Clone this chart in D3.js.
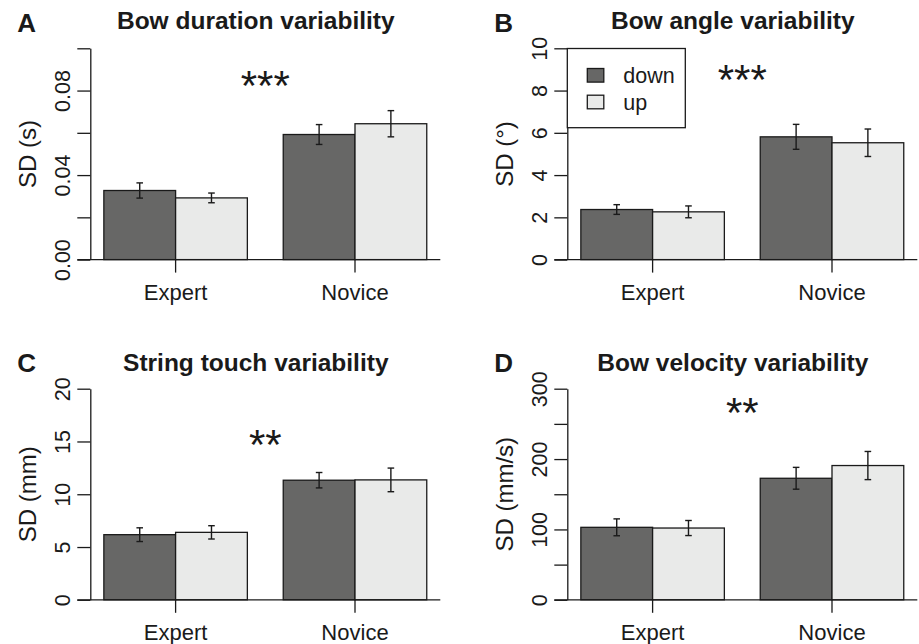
<!DOCTYPE html>
<html>
<head>
<meta charset="utf-8">
<script src="https://cdn.jsdelivr.net/npm/d3@7"></script>
<style>
  html, body { margin: 0; padding: 0; background: #fff; }
  svg { display: block; font-family: "Liberation Sans", Arial, Helvetica, sans-serif; }
</style>
</head>
<body>
<svg id="chart" width="919" height="644"></svg>
<script>
// ---------- data ----------
const groups = ["Expert", "Novice"];
const series = ["down", "up"];
const seriesColors = ["#676766", "#e9eae9"];

const durationDown = [0.0327, 0.0592];
const durationUp   = [0.0292, 0.0643];
const durationErrDown = [0.0036, 0.0047];
const durationErrUp   = [0.0023, 0.0062];
const durationTicks  = [0, 0.02, 0.04, 0.06, 0.08, 0.10];
const durationLabels = ["0.00", "", "0.04", "", "0.08", ""];

const angleDown = [2.37, 5.81];
const angleUp   = [2.26, 5.53];
const angleErrDown = [0.23, 0.59];
const angleErrUp   = [0.28, 0.65];
const angleTicks  = [0, 2, 4, 6, 8, 10];
const angleLabels = ["0", "2", "4", "6", "8", "10"];

const touchDown = [6.17, 11.33];
const touchUp   = [6.39, 11.36];
const touchErrDown = [0.65, 0.73];
const touchErrUp   = [0.63, 1.12];
const touchTicks  = [0, 5, 10, 15, 20];
const touchLabels = ["0", "5", "10", "15", "20"];

const velocityDown = [103, 172.7];
const velocityUp   = [102, 190.8];
const velocityErrDown = [12, 15.5];
const velocityErrUp   = [10.7, 20];
const velocityTicks  = [0, 50, 100, 150, 200, 250, 300];
const velocityLabels = ["0", "", "100", "", "200", "", "300"];

const panelLetters = ["A", "B", "C", "D"];
const panelTitles = ["Bow duration variability", "Bow angle variability",
                     "String touch variability", "Bow velocity variability"];
const yTitles = ["SD (s)", "SD (\u00b0)", "SD (mm)", "SD (mm/s)"];
const stars = ["***", "***", "**", "**"];

// ---------- layout ----------
const panels = [
  { vals: [durationDown, durationUp], errs: [durationErrDown, durationErrUp], ticks: durationTicks, labels: durationLabels,
    ax: 90.3, top: 48.3, base: 259.6, legend: false },
  { vals: [angleDown, angleUp], errs: [angleErrDown, angleErrUp], ticks: angleTicks, labels: angleLabels,
    ax: 567.3, top: 48.3, base: 259.6, legend: true },
  { vals: [touchDown, touchUp], errs: [touchErrDown, touchErrUp], ticks: touchTicks, labels: touchLabels,
    ax: 90.3, top: 388.7, base: 599.8, legend: false },
  { vals: [velocityDown, velocityUp], errs: [velocityErrDown, velocityErrUp], ticks: velocityTicks, labels: velocityLabels,
    ax: 567.3, top: 388.7, base: 599.8, legend: false }
];
const plotW = 350;
const titleDy = [-19, -19, -17.4, -17.4];
const starDy = [51.7, 45.7, 70.3, 38.3];

const svg = d3.select("#chart");
const ink = "#1a1a1a";

panels.forEach((p, i) => {
  const g = svg.append("g");
  const x0 = d3.scaleBand().domain(groups).range([p.ax, p.ax + plotW]).paddingInner(0.2).paddingOuter(0.0755);
  const x1 = d3.scaleBand().domain(series).range([0, x0.bandwidth()]);
  const y = d3.scaleLinear().domain([0, p.ticks[p.ticks.length - 1]]).range([p.base, p.top]);
  const cx = p.ax + plotW / 2;

  // bars
  groups.forEach((grp, gi) => {
    series.forEach((s, si) => {
      const v = p.vals[si][gi];
      const bx = x0(grp) + x1(s);
      g.append("rect")
        .attr("x", bx).attr("y", y(v))
        .attr("width", x1.bandwidth()).attr("height", y(0) - y(v))
        .attr("fill", seriesColors[si]).attr("stroke", ink).attr("stroke-width", 1.3);
      const e = p.errs[si][gi];
      const mx = bx + x1.bandwidth() / 2;
      g.append("line").attr("x1", mx).attr("x2", mx).attr("y1", y(v + e)).attr("y2", y(v - e))
        .attr("stroke", ink).attr("stroke-width", 1.4);
      [v + e, v - e].forEach(t => {
        g.append("line").attr("x1", mx - 3.3).attr("x2", mx + 3.3).attr("y1", y(t)).attr("y2", y(t))
          .attr("stroke", ink).attr("stroke-width", 1.4);
      });
    });
  });

  // y axis
  const yAxis = d3.axisLeft(y).tickValues(p.ticks).tickSize(13).tickSizeOuter(0)
    .tickFormat((d, k) => p.labels[k]);
  const ya = g.append("g").attr("transform", `translate(${p.ax},0)`).call(yAxis);
  ya.select(".domain").attr("stroke", ink).attr("stroke-width", 1.3);
  ya.selectAll(".tick line").attr("stroke", ink).attr("stroke-width", 1.3);
  ya.selectAll(".tick text")
    .attr("x", null).attr("y", null).attr("dy", null)
    .attr("transform", "translate(-20,0) rotate(-90)")
    .attr("text-anchor", "middle")
    .attr("fill", ink)
    .style("font-size", "21.5px")
    .style("font-family", "'Liberation Sans', Arial, sans-serif");

  // x axis
  g.append("line").attr("x1", p.ax - 13).attr("x2", p.ax + plotW).attr("y1", p.base).attr("y2", p.base)
    .attr("stroke", ink).attr("stroke-width", 1.3);
  const xa = g.append("g").attr("transform", `translate(0,${p.base})`)
    .call(d3.axisBottom(x0).tickSize(13).tickSizeOuter(0));
  xa.select(".domain").remove();
  xa.selectAll(".tick line").attr("stroke", ink).attr("stroke-width", 1.3);
  xa.selectAll(".tick text").attr("y", 40.5).attr("dy", null).attr("fill", ink)
    .style("font-size", "22px").style("font-family", "'Liberation Sans', Arial, sans-serif");

  // y title
  g.append("text")
    .attr("transform", `translate(${p.ax - 54},${(p.top + p.base) / 2}) rotate(-90)`)
    .attr("text-anchor", "middle").attr("fill", ink).style("font-size", "24px")
    .text(yTitles[i]);

  // title
  g.append("text").attr("x", cx - 9.5).attr("y", p.top + titleDy[i])
    .attr("text-anchor", "middle").attr("fill", ink).style("font-size", "24.5px").style("font-weight", "bold")
    .text(panelTitles[i]);

  // panel letter
  g.append("text").attr("x", p.ax - 73).attr("y", p.top - 16.3)
    .attr("fill", ink).style("font-size", "26px").style("font-weight", "bold")
    .text(panelLetters[i]);

  // significance stars
  g.append("text").attr("x", cx).attr("y", p.top + starDy[i])
    .attr("text-anchor", "middle").attr("fill", ink).style("font-size", "42px")
    .text(stars[i]);

  // legend
  if (p.legend) {
    const lx = p.ax, ly = p.top + 0.2;
    g.append("rect").attr("x", lx).attr("y", ly).attr("width", 118).attr("height", 79.2)
      .attr("fill", "#fff").attr("stroke", ink).attr("stroke-width", 1.3);
    series.forEach((s, si) => {
      g.append("rect").attr("x", lx + 20).attr("y", ly + 20 + si * 26.7).attr("width", 16.5).attr("height", 13.6)
        .attr("fill", seriesColors[si]).attr("stroke", ink).attr("stroke-width", 1.3);
      g.append("text").attr("x", lx + 56).attr("y", ly + 34.8 + si * 26.2)
        .attr("fill", ink).style("font-size", "21.5px").text(s);
    });
  }
});
</script>
</body>
</html>
